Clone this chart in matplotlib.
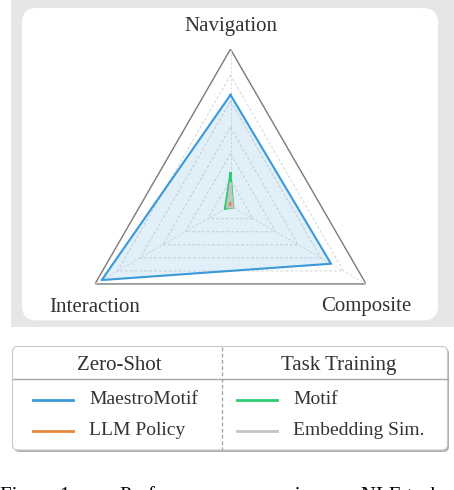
import matplotlib.pyplot as plt
import numpy as np
from matplotlib.patches import FancyBboxPatch, Rectangle
from matplotlib.lines import Line2D

plt.rcParams['font.family'] = ['Liberation Serif', 'DejaVu Serif']

categories = ["Navigation", "Interaction", "Composite"]
methods = ["MaestroMotif", "LLM Policy", "Motif", "Embedding Sim."]
colors = ["#3b9ad9", "#e8883a", "#2ecc71", "#c4c4c4"]
maestro = [0.85, 1.14, 0.89]
llm_policy = [0.02, 0.04, 0.025]
motif = [0.25, 0.05, 0.025]
embedding = [0.17, 0.03, 0.02]
values = [maestro, llm_policy, motif, embedding]
levels = [0.2, 0.4, 0.6, 0.8, 1.0]
rmax = 1.2

W, H = 454, 490
fig = plt.figure(figsize=(W / 100, H / 100), dpi=100)


def fx(px):
    return px / W


def fy(py):
    return 1 - py / H


# gray panel + white rounded card
fig.add_artist(Rectangle((fx(11), fy(327)), fx(454 - 11), 327 / H,
                         facecolor="#e6e6e6", edgecolor="none", zorder=0))
fig.add_artist(FancyBboxPatch((fx(22), fy(320.5)), fx(416), 312.5 / H,
                              boxstyle="round,pad=0,rounding_size=0.033",
                              facecolor="white", edgecolor="none",
                              mutation_aspect=W / H, zorder=1))

# radar axes
cx, cy, R = 230.5, 205.7, 156.5
ax = fig.add_axes([fx(cx - R), fy(cy + R), 2 * R / W, 2 * R / H],
                  projection="polar", zorder=2)
ax.set_theta_offset(np.pi / 2)
ax.set_theta_direction(1)
ax.set_ylim(0, rmax)
ax.patch.set_alpha(0)
ax.spines["polar"].set_visible(False)
ax.grid(False)
ax.set_xticks([])
ax.set_yticks([])

angles = np.linspace(0, 2 * np.pi, len(categories), endpoint=False)
closed = np.concatenate([angles, angles[:1]])

for lv in levels:
    ax.plot(closed, [lv] * 4, color="#d4d4d4", lw=0.7, ls=(0, (3, 2)), zorder=1)
ax.plot(closed, [rmax] * 4, color="#7a7a7a", lw=1.0, zorder=1)
for a in angles:
    ax.plot([a, a], [0, rmax], color="#d8d8d8", lw=0.6, ls=(0, (3, 2)), zorder=1)

for name, vals, c in zip(methods, values, colors):
    v = vals + vals[:1]
    ax.fill(closed, v, color=c, alpha=0.15 if name == "MaestroMotif" else 0.35,
            zorder=3)
    ax.plot(closed, v, color=c, lw=1.5, zorder=4)

label_pos = [(230.5, 26), (95, 307), (366, 307)]
for cat, (px, py) in zip(categories, label_pos):
    fig.text(fx(px), fy(py), cat, ha="center", va="center", fontsize=15,
             color="#333333", zorder=5)

# legend card
fig.add_artist(FancyBboxPatch((fx(14), fy(452)), fx(435), 104 / H,
                              boxstyle="round,pad=0,rounding_size=0.012",
                              facecolor="#b0b0b0", edgecolor="none",
                              mutation_aspect=W / H, zorder=1))
fig.add_artist(FancyBboxPatch((fx(12.5), fy(450)), fx(435), 103.5 / H,
                              boxstyle="round,pad=0,rounding_size=0.012",
                              facecolor="white", edgecolor="#c8c8c8", lw=0.8,
                              mutation_aspect=W / H, zorder=2))
fig.add_artist(Line2D([fx(12.5), fx(447.5)], [fy(378.5), fy(378.5)],
                      color="#a8a8a8", lw=1.0, zorder=3))
fig.add_artist(Line2D([fx(222), fx(222)], [fy(347), fy(450)],
                      color="#a0a0a0", lw=0.9, ls=(0, (3, 2)), zorder=3))
fig.text(fx(119), fy(365), "Zero-Shot", ha="center", va="center",
         fontsize=15, color="#333333", zorder=4)
fig.text(fx(339), fy(365), "Task Training", ha="center", va="center",
         fontsize=15, color="#333333", zorder=4)

entry_x = [33, 33, 237, 237]
entry_y = [399.5, 430.5, 399.5, 430.5]
for name, c, ex, ey in zip(methods, colors, entry_x, entry_y):
    fig.add_artist(Line2D([fx(ex), fx(ex + 40)], [fy(ey), fy(ey)],
                          color=c, lw=2.0, zorder=4))
    fig.text(fx(ex + 56), fy(ey), name, ha="left", va="center",
             fontsize=14, color="#333333", zorder=4)

# caption (clipped at the bottom edge, as in the reference)
fig.text(fx(0), fy(501), "Figure 1:", ha="left", va="baseline",
         fontsize=15, color="black")
fig.text(fx(120), fy(501), "Performance comparison on NLE tasks",
         ha="left", va="baseline", fontsize=15, color="black")

fig.savefig("out.png", dpi=100)
